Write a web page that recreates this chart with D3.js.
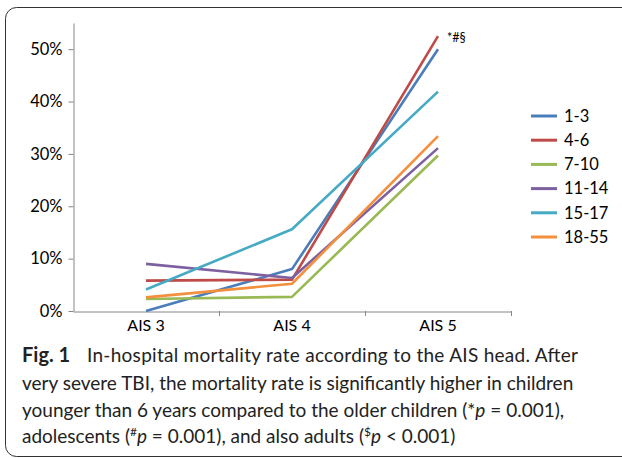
<!DOCTYPE html>
<html lang="en">
<head>
<meta charset="UTF-8">
<title>Fig. 1</title>
<script src="https://d3js.org/d3.v7.min.js"></script>
<style>
  body { margin: 0; background: #fff; }
  svg { display: block; }
</style>
</head>
<body>
<div id="chart"></div>
<script>
// categories and series values (mortality rate, %)
var categories = ['AIS 3', 'AIS 4', 'AIS 5'];
var groups = ['1-3', '4-6', '7-10', '11-14', '15-17', '18-55'];
var colors = ['#4a7ebb', '#be4b48', '#98b954', '#7d60a0', '#46aac5', '#f38f3d'];
var s1_3   = [0.0, 8.0, 50.0];
var s4_6   = [5.8, 6.0, 52.5];
var s7_10  = [2.3, 2.7, 29.7];
var s11_14 = [9.0, 6.3, 31.1];
var s15_17 = [4.1, 15.6, 41.9];
var s18_55 = [2.6, 5.2, 33.4];
var yTicks = [0, 10, 20, 30, 40, 50];
var series = [s1_3, s4_6, s7_10, s11_14, s15_17, s18_55];

var W = 622, H = 458;
var svg = d3.select('#chart').append('svg')
  .attr('width', W)
  .attr('height', H);

// frame
svg.append('rect')
  .attr('x', 5.5).attr('y', 7.5)
  .attr('width', 640).attr('height', 449)
  .attr('rx', 11).attr('ry', 11)
  .attr('fill', 'none')
  .attr('stroke', '#333')
  .attr('stroke-width', 1);

var xScale = d3.scaleBand()
  .domain(categories)
  .range([73, 511]);

var yScale = d3.scaleLinear()
  .domain([0, 55])
  .range([311, 23]);

var axisColor = '#868686';
var tickFont = 'Lato, "Liberation Sans", sans-serif';

// y axis
var yAxis = svg.append('g')
  .attr('transform', 'translate(73.5,0)')
  .call(d3.axisLeft(yScale).tickValues(yTicks).tickSize(5).tickSizeOuter(0)
    .tickFormat(function(d) { return d + '%'; }));
yAxis.select('.domain').attr('stroke', axisColor);
yAxis.selectAll('line').attr('stroke', axisColor);
yAxis.selectAll('text')
  .attr('fill', '#000')
  .attr('x', -11)
  .style('font-family', tickFont)
  .style('font-size', '16.5px');

// x axis
var xAxis = svg.append('g')
  .attr('transform', 'translate(0,311.5)')
  .call(d3.axisBottom(xScale).tickSize(0).tickSizeOuter(0));
xAxis.select('.domain').attr('stroke', axisColor);
xAxis.selectAll('text')
  .attr('fill', '#000')
  .attr('dy', '1.0em')
  .style('font-family', tickFont)
  .style('font-size', '16px');

// category separators
var seps = categories.map(function(c) { return xScale(c); }).concat([xScale.range()[1]]);
svg.append('g').selectAll('line').data(seps.slice(1)).enter().append('line')
  .attr('x1', function(d) { return d + 0.5; })
  .attr('x2', function(d) { return d + 0.5; })
  .attr('y1', 311)
  .attr('y2', 316)
  .attr('stroke', axisColor);

// lines
var line = d3.line()
  .x(function(d, i) { return xScale(categories[i]) + xScale.bandwidth() / 2; })
  .y(function(d) { return yScale(d); });

svg.append('g').selectAll('path').data(series).enter().append('path')
  .attr('d', line)
  .attr('fill', 'none')
  .attr('stroke', function(d, i) { return colors[i]; })
  .attr('stroke-width', 2.6)
  .attr('stroke-linejoin', 'round');

// significance marker
svg.append('text')
  .attr('x', xScale('AIS 5') + xScale.bandwidth() / 2 + 9)
  .attr('y', yScale(s4_6[2]) + 6)
  .style('font-family', tickFont)
  .style('font-size', '12.5px')
  .text('*#§');

// legend
var legend = svg.append('g').selectAll('g').data(groups).enter().append('g')
  .attr('transform', function(d, i) { return 'translate(531,' + (116 + i * 24.2) + ')'; });
legend.append('line')
  .attr('x1', 0).attr('x2', 26)
  .attr('stroke', function(d, i) { return colors[i]; })
  .attr('stroke-width', 3);
legend.append('text')
  .attr('x', 33)
  .attr('dy', '0.35em')
  .style('font-family', tickFont)
  .style('font-size', '16.5px')
  .text(function(d) { return d; });

// caption
var capFont = 'Lato, "Noto Sans", sans-serif';
var cap = svg.append('text')
  .style('font-family', capFont)
  .style('font-size', '19px')
  .attr('fill', '#222');
var l1 = cap.append('tspan').attr('x', 22).attr('y', 362);
l1.append('tspan').style('font-weight', 'bold').style('font-size', '20px').text('Fig. 1');
l1.append('tspan').attr('x', 87)
  .attr('textLength', 491).attr('lengthAdjust', 'spacing')
  .text('In-hospital mortality rate according to the AIS head. After');
cap.append('tspan').attr('x', 22).attr('y', 390)
  .text('very severe TBI, the mortality rate is significantly higher in children');
var l3 = cap.append('tspan').attr('x', 22).attr('y', 417);
l3.append('tspan').text('younger than 6 years compared to the older children (*');
l3.append('tspan').style('font-style', 'italic').text('p');
l3.append('tspan').text(' = 0.001),');
var l4 = cap.append('tspan').attr('x', 22).attr('y', 443);
l4.append('tspan').text('adolescents (');
l4.append('tspan').attr('baseline-shift', 'super').style('font-size', '12px').text('#');
l4.append('tspan').style('font-style', 'italic').text('p');
l4.append('tspan').text(' = 0.001), and also adults (');
l4.append('tspan').attr('baseline-shift', 'super').style('font-size', '12px').text('$');
l4.append('tspan').style('font-style', 'italic').text('p');
l4.append('tspan').text(' < 0.001)');
</script>
</body>
</html>
